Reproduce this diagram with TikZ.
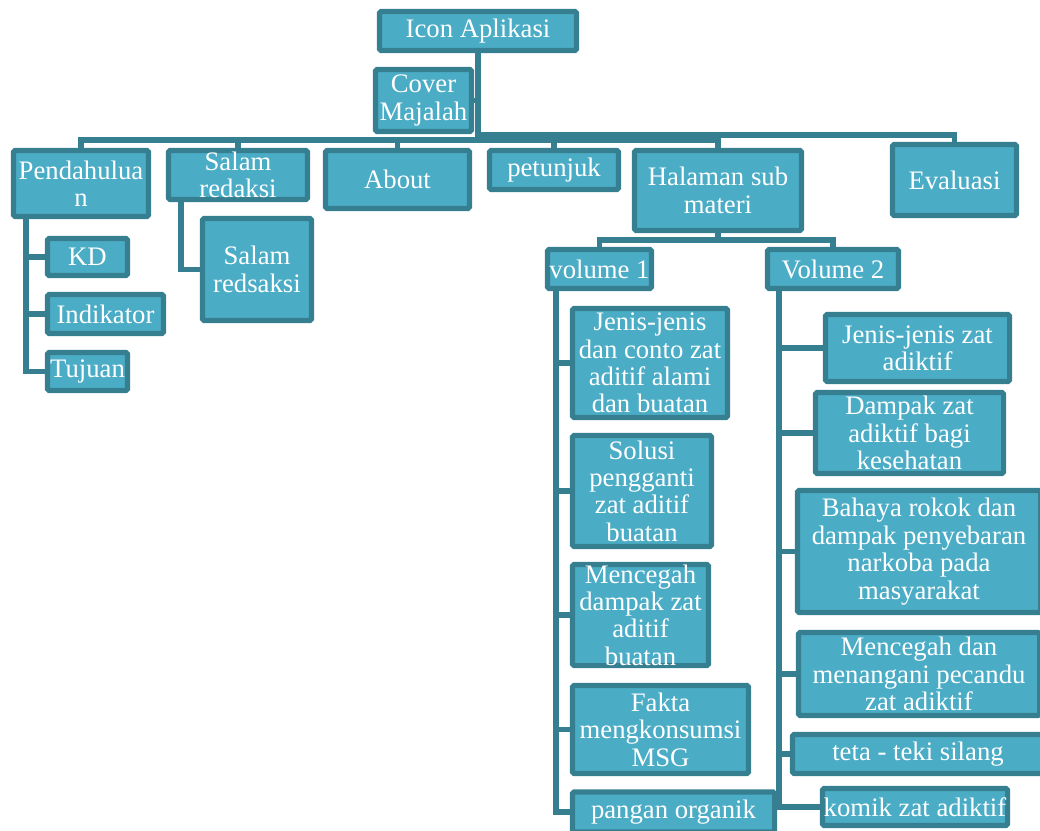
\documentclass[tikz,border=0pt]{standalone}
\usepackage{fontspec}
\setmainfont{Liberation Serif}
\usepackage{tikz}
\definecolor{boxfill}{HTML}{4BACC6}
\definecolor{boxline}{HTML}{367F91}

\begin{document}
\begin{tikzpicture}[x=0.025cm, y=-0.025cm,
        box/.style={draw=boxline, fill=boxfill, line width=3.6pt, rounded corners=1pt,
            text=white, align=center, inner sep=0pt, font=\fontsize{19}{19.5}\selectfont},
        sz/.style 2 args={minimum width=#1*0.7113pt, minimum height=#2*0.7113pt},
        link/.style={draw=boxline, line width=3.6pt}]
    \useasboundingbox (0,0) rectangle (1040,830);
    \clip (0,0) rectangle (1040,830);

    % Root node
    \node[box, sz={197}{39}] (icon) at (478,31) {Icon Aplikasi};
    \node[box, sz={96}{62}] (cover) at (423.5,100.5) {Cover\\Majalah};

    % First level
    \node[box, sz={135}{66}] (pend) at (81,183.5) {Pendahulua\\n};
    \node[box, sz={139}{49}] (salam) at (238,175) {Salam\\redaksi};
    \node[box, sz={144}{58}] (about) at (397.5,179.5) {About};
    \node[box, sz={129}{39}] (petunjuk) at (554,170) {petunjuk};
    \node[box, sz={167}{80}] (halaman) at (718,190.5) {Halaman sub\\materi};
    \node[box, sz={124}{71}] (evaluasi) at (954.5,180) {Evaluasi};

    % Pendahuluan and Salam redaksi
    \node[box, sz={80}{37}] (kd) at (87.5,257) {KD};
    \node[box, sz={116}{39}] (indikator) at (105.5,314) {Indikator};
    \node[box, sz={80}{38}] (tujuan) at (87.5,371.5) {Tujuan};
    \node[box, sz={109}{102}] (salam2) at (257,269.5) {Salam\\redsaksi};

    % Volumes
    \node[box, sz={104}{39}] (vol1) at (599.5,269) {volume 1};
    \node[box, sz={131}{39}] (vol2) at (833,269) {Volume 2};

    % Volume 1
    \node[box, sz={155}{109}] (a1) at (650,363) {Jenis-jenis\\dan conto zat\\aditif alami\\dan buatan};
    \node[box, sz={139}{111}] (a2) at (642,491) {Solusi\\pengganti\\zat aditif\\buatan};
    \node[box, sz={136}{99}] (a3) at (640.5,615) {Mencegah\\dampak zat\\aditif\\buatan};
    \node[box, sz={176}{88}] (a4) at (660.5,729.5) {Fakta\\mengkonsumsi\\MSG};
    \node[box, sz={202}{40}] (a5) at (673.5,812) {pangan organik};

    % Volume 2
    \node[box, sz={184}{67}] (b1) at (917.5,348) {Jenis-jenis zat\\adiktif};
    \node[box, sz={188}{81}] (b2) at (909.5,433) {Dampak zat\\adiktif bagi\\kesehatan};
    \node[box, sz={243}{122}] (b3) at (919,551.5) {Bahaya rokok dan\\dampak penyebaran\\narkoba pada\\masyarakat};
    \node[box, sz={241}{83}] (b4) at (919,674) {Mencegah dan\\menangani pecandu\\zat adiktif};
    \node[box, sz={251}{39}] (b5) at (918,754) {teta - teki silang};
    \node[box, sz={185}{37}] (b6) at (915,807) {komik zat adiktif};

    % Connectors
    \coordinate (bus) at (478,140);
    \coordinate (busr) at (478,135);
    \foreach \ch in {pend,salam,about,petunjuk,halaman}
        \draw[link] (icon.south) -- (bus) -| (\ch.north);
    \draw[link] (icon.south) -- (busr) -| (evaluasi.north);
    \draw[link] (cover.east) -- (cover.east -| icon.south);

    \coordinate (pl) at (26,0);
    \foreach \ch in {kd,indikator,tujuan}
        \draw[link] (pend.south -| pl) |- (\ch.west);
    \coordinate (sl) at (181,0);
    \draw[link] (salam.south -| sl) |- (salam2.west);

    \coordinate (hbus) at (718,240);
    \foreach \ch in {vol1,vol2}
        \draw[link] (halaman.south) -- (hbus) -| (\ch.north);

    \coordinate (v1) at (556,0);
    \foreach \ch in {a1,a2,a3,a4,a5}
        \draw[link] (vol1.south -| v1) |- (\ch.west);
    \coordinate (v2) at (779,0);
    \foreach \ch in {b1,b2,b3,b4,b5,b6}
        \draw[link] (vol2.south -| v2) |- (\ch.west);
\end{tikzpicture}
\end{document}
